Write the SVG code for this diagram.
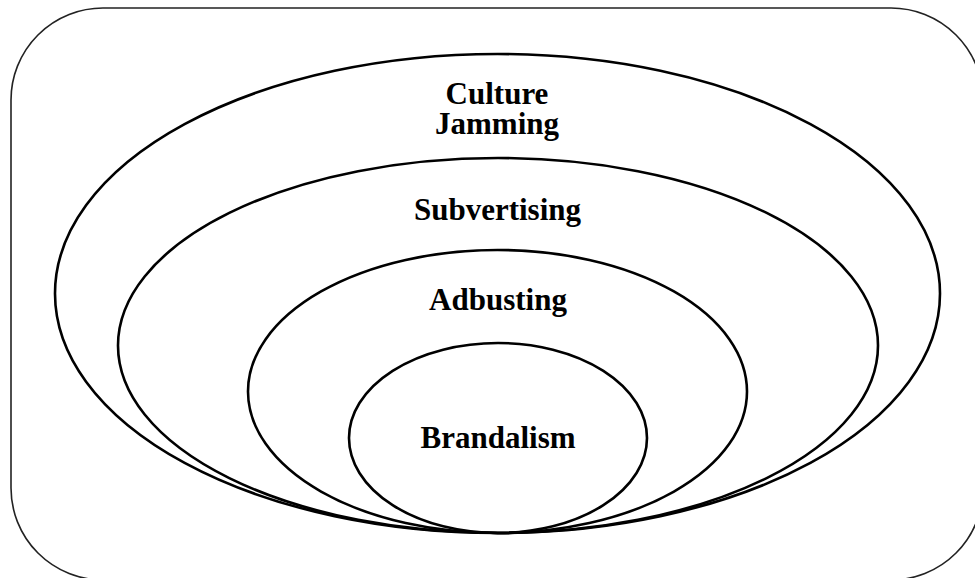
<svg xmlns="http://www.w3.org/2000/svg" width="975" height="578" viewBox="0 0 975 578">
  <style>
    .frame { fill: none; stroke: #222; stroke-width: 1.6; }
    .ring { fill: none; stroke: #000; stroke-width: 2.6; }
    .label { font-family: "Liberation Serif", "Times New Roman", serif; font-weight: bold; font-size: 31px; fill: #000; text-anchor: middle; }
  </style>
  <rect width="975" height="578" fill="#fff"/>
  <rect class="frame" x="11" y="8" width="972" height="572" rx="92" ry="92"/>

  <g id="culture-jamming">
    <ellipse class="ring" cx="497.5" cy="293.5" rx="442.5" ry="239.5"/>
    <text class="label" x="497" y="104">Culture</text>
    <text class="label" x="497" y="134">Jamming</text>
  </g>
  <g id="subvertising">
    <ellipse class="ring" cx="498" cy="345.5" rx="380" ry="187.5"/>
    <text class="label" x="497.5" y="220">Subvertising</text>
  </g>
  <g id="adbusting">
    <ellipse class="ring" cx="497.5" cy="391.5" rx="249.5" ry="141.5"/>
    <text class="label" x="498" y="310">Adbusting</text>
  </g>
  <g id="brandalism">
    <ellipse class="ring" cx="498" cy="438" rx="149" ry="95"/>
    <text class="label" x="498" y="448">Brandalism</text>
  </g>
  <g id="connectors"/>
</svg>
